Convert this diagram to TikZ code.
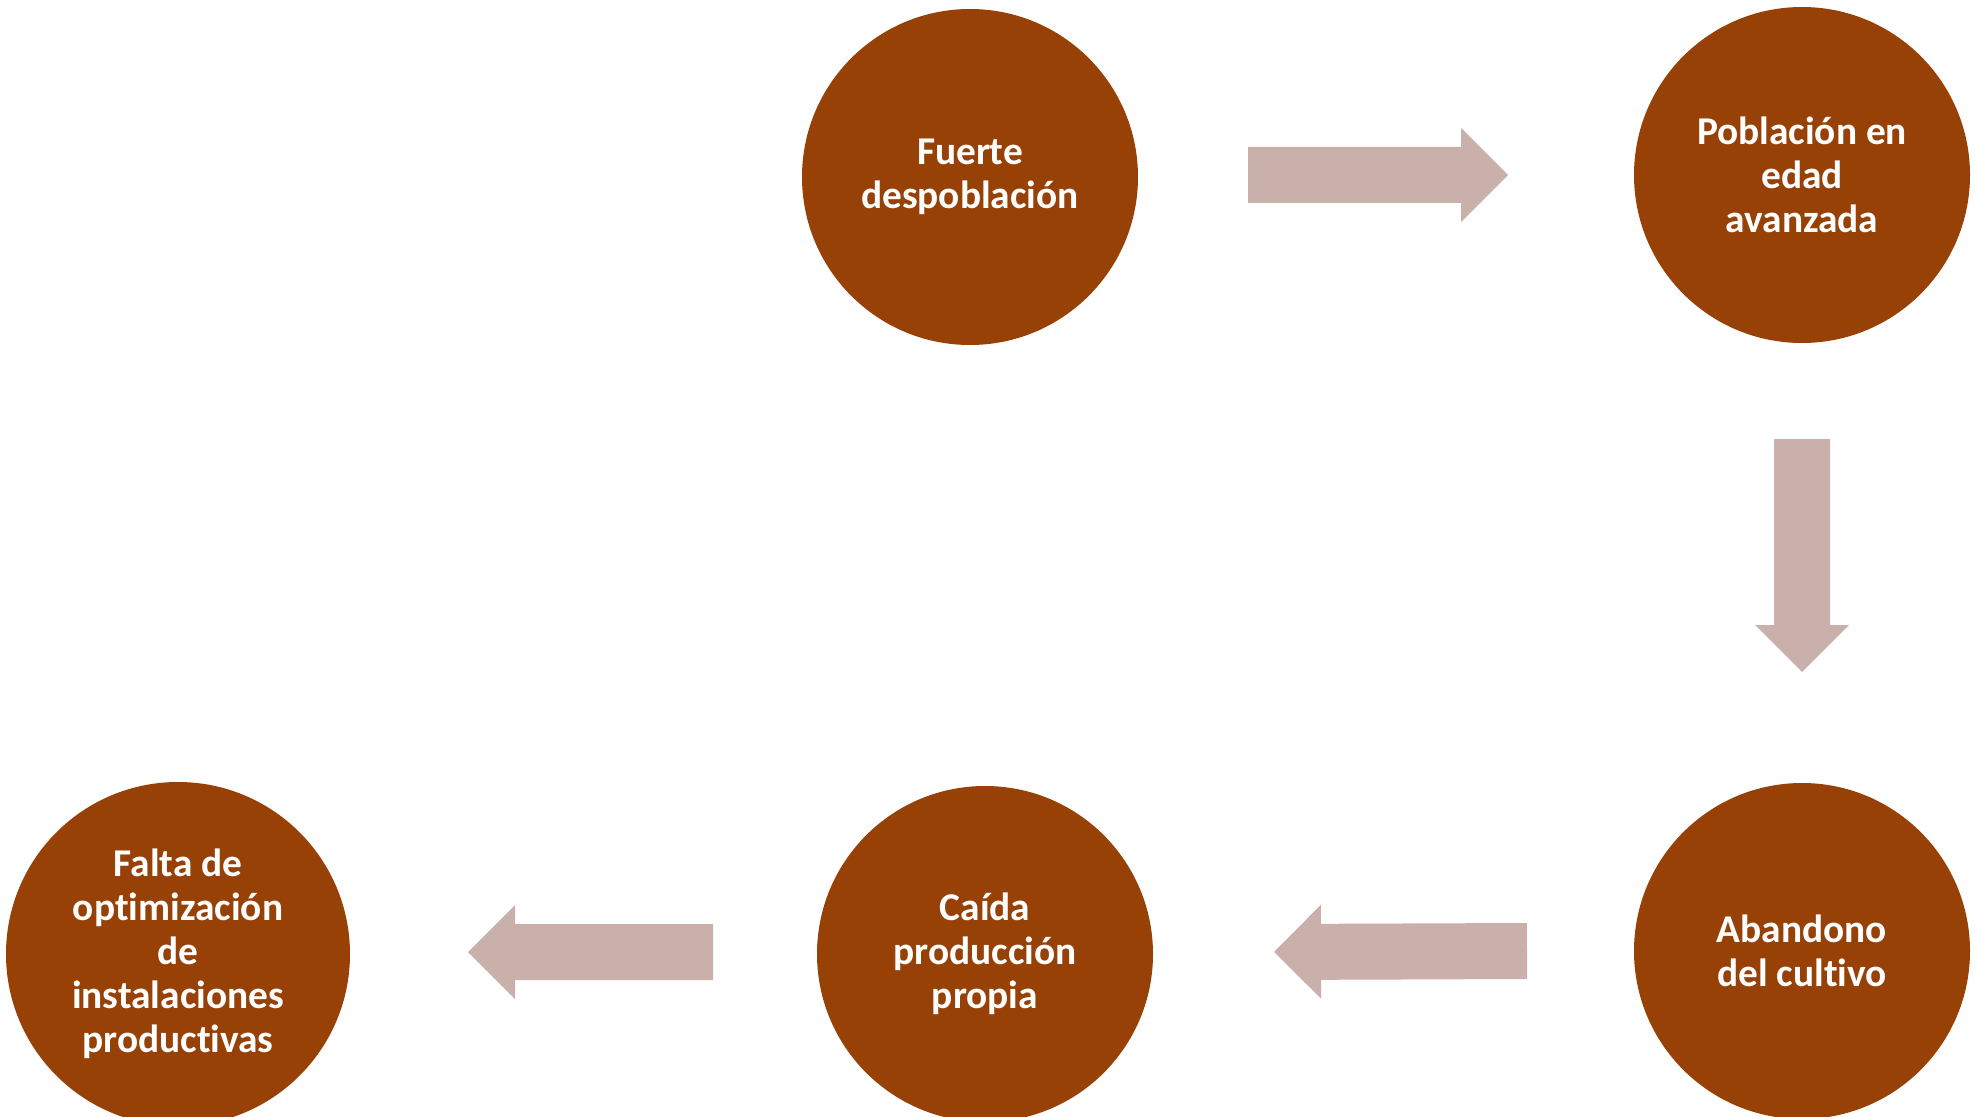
\documentclass[tikz,border=0pt]{standalone}
\usepackage{xcolor}
\usepackage{fontspec}
\usepackage{tikz}
\usetikzlibrary{calc}
\setmainfont{Carlito}[Ligatures=CommonOff]

\definecolor{circbrown}{RGB}{152,65,6}
\definecolor{arrowrose}{RGB}{201,176,170}

% block arrow from (#1) to (#2)
\newcommand{\blockarrow}[2]{%
	\coordinate (base) at ($(#2)!0.47cm!(#1)$);
	\fill[arrowrose] ($(#1)!0.28cm!90:(#2)$) -- ($(base)!0.28cm!-90:(#1)$)
		-- ($(base)!0.47cm!-90:(#1)$) -- (#2) -- ($(base)!0.47cm!90:(#1)$)
		-- ($(base)!0.28cm!90:(#1)$) -- ($(#1)!0.28cm!-90:(#2)$) -- cycle;
}

\begin{document}
\begin{tikzpicture}[
	stage/.style={circle, fill=circbrown, text=white, minimum size=3.36cm, inner sep=0pt,
		align=center, font=\bfseries\fontsize{11.2}{12.5}\selectfont}
	]
	\useasboundingbox (0,0) rectangle (19.76,11.16);

	\node[stage] (fuerte) at (9.70,9.39) {Fuerte\\despoblación};
	\node[stage] (poblacion) at (18.02,9.41) {Población en\\edad\\avanzada};
	\node[stage] (abandono) at (18.02,1.65) {Abandono\\del cultivo};
	\node[stage] (caida) at (9.85,1.62) {Caída\\producción\\propia};
	\node[stage, minimum size=3.44cm] (falta) at (1.78,1.62) {Falta de\\optimización\\de\\instalaciones\\productivas};

	% arrow ends
	\coordinate (a1) at (12.48,9.41);
	\coordinate (b1) at (15.08,9.41);
	\coordinate (a2) at (18.02,6.77);
	\coordinate (b2) at (18.02,4.44);
	\coordinate (a3) at (15.27,1.65);
	\coordinate (b3) at (12.74,1.64);
	\coordinate (a4) at (7.13,1.64);
	\coordinate (b4) at (4.68,1.64);

	\foreach \i in {1,...,4}{
		\blockarrow{a\i}{b\i}
	}
\end{tikzpicture}
\end{document}
